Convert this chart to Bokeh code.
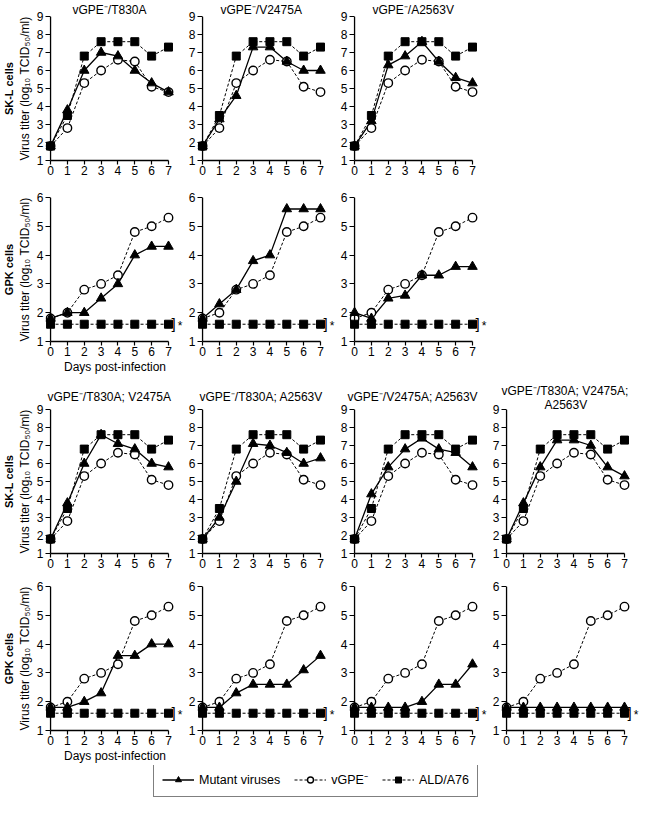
from bokeh.plotting import figure
from bokeh.layouts import column, row
from bokeh.models import (Range1d, FixedTicker, Title, Label, Legend, LegendItem,
                          ColumnDataSource, Span)
from bokeh.embed import file_html
from bokeh.resources import INLINE
from bokeh.core.properties import value

FONT = "Liberation Sans"

# ---------------- data ----------------
days = [0, 1, 2, 3, 4, 5, 6, 7]
skl_ticks = [1, 2, 3, 4, 5, 6, 7, 8, 9]
gpk_ticks = [1, 2, 3, 4, 5, 6]

# SK-L cells
skl_vgpe = [1.8, 2.8, 5.3, 6.0, 6.6, 6.5, 5.1, 4.8]
skl_ald = [1.8, 3.5, 6.8, 7.6, 7.6, 7.6, 6.8, 7.3]
skl_t830a = [1.8, 3.8, 6.0, 7.0, 6.8, 6.0, 5.3, 4.8]
skl_v2475a = [1.8, 3.3, 4.6, 7.3, 7.3, 6.5, 6.0, 6.0]
skl_a2563v = [1.8, 3.2, 6.3, 6.8, 7.6, 6.5, 5.6, 5.3]
skl_t830a_v2475a = [1.8, 3.8, 6.0, 7.6, 7.1, 6.8, 6.0, 5.8]
skl_t830a_a2563v = [1.8, 3.0, 5.0, 7.1, 7.0, 6.6, 6.0, 6.3]
skl_v2475a_a2563v = [1.8, 4.3, 5.8, 6.8, 7.4, 6.8, 6.6, 5.8]
skl_triple = [1.8, 3.8, 5.8, 7.3, 7.3, 7.0, 5.8, 5.3]

# GPK cells
gpk_vgpe = [1.8, 2.0, 2.8, 3.0, 3.3, 4.8, 5.0, 5.3]
gpk_ald = [1.6, 1.6, 1.6, 1.6, 1.6, 1.6, 1.6, 1.6]
gpk_t830a = [1.8, 2.0, 2.0, 2.5, 3.0, 4.0, 4.3, 4.3]
gpk_v2475a = [1.8, 2.3, 2.8, 3.8, 4.0, 5.6, 5.6, 5.6]
gpk_a2563v = [2.0, 1.8, 2.5, 2.6, 3.3, 3.3, 3.6, 3.6]
gpk_t830a_v2475a = [1.8, 1.8, 2.0, 2.3, 3.6, 3.6, 4.0, 4.0]
gpk_t830a_a2563v = [1.8, 1.8, 2.3, 2.6, 2.6, 2.6, 3.1, 3.6]
gpk_v2475a_a2563v = [1.8, 1.8, 1.8, 1.8, 2.0, 2.6, 2.6, 3.3]
gpk_triple = [1.8, 1.8, 1.8, 1.8, 1.8, 1.8, 1.8, 1.8]

titles_single = ["vGPE\u207b/T830A", "vGPE\u207b/V2475A", "vGPE\u207b/A2563V"]
titles_double = ["vGPE\u207b/T830A; V2475A", "vGPE\u207b/T830A; A2563V",
                 "vGPE\u207b/V2475A; A2563V", "vGPE\u207b/T830A; V2475A;\nA2563V"]
ylabel = "Virus titer (log\u2081\u2080 TCID\u2085\u2080/ml)"
xlabel = "Days post-infection"
cell_skl = "SK-L cells"
cell_gpk = "GPK cells"
legend_labels = ["Mutant viruses", "vGPE\u207b", "ALD/A76"]
signif = "*"

# ---------------- styles ----------------
mut_line = dict(line_color="black", line_width=1.3)
mut_mark = dict(marker="triangle", size=9.5, fill_color="black", line_color="black", line_width=1)
vgpe_line = dict(line_color="black", line_width=1, line_dash="3 2")
vgpe_mark = dict(marker="circle", size=8.5, fill_color="white", line_color="black", line_width=1.4)
ald_line = dict(line_color="black", line_width=1, line_dash="3 2")
ald_mark = dict(marker="square", size=8, fill_color="black", line_color="black", line_width=1)

FW, FH = 139, 144
XS, XE = -0.3, 7.95
PXD = FW / (XE - XS)
TICK = int(round((days[0] - XS) * PXD))

CW = {' ': 278, ';': 278, '/': 278, '\u207b': 400, 'v': 500, 'G': 778, 'P': 667,
      'E': 667, 'T': 611, 'A': 667, 'V': 667}


def text_w(s, size=12):
    return sum(CW.get(c, 556) for c in s) / 1000.0 * size


def style_axis(ax):
    ax.axis_line_color = "black"
    ax.axis_line_width = 1.3
    ax.major_tick_line_color = "black"
    ax.major_tick_line_width = 1.2
    ax.major_tick_out = 4
    ax.major_tick_in = 0
    ax.minor_tick_line_color = None
    ax.major_label_text_font = FONT
    ax.major_label_text_font_size = "12px"
    ax.major_label_text_color = "black"
    ax.major_label_standoff = 1
    ax.axis_label_text_font = FONT
    ax.axis_label_text_font_size = "12px"
    ax.axis_label_text_font_style = "normal"
    ax.axis_label_text_color = "black"


def centered_title(text, standoff):
    off = ((days[0] + days[-1]) / 2 - XS) * PXD - text_w(text) / 2
    return Title(text=text, align="left", offset=int(round(off)), standoff=standoff,
                 text_font=FONT, text_font_size="12px", text_font_style="normal",
                 text_color="black")


def make_panel(title, mutant, vgpe, ald, ticks, col, top, bottom, title_standoff,
               cell=None, with_xlabel=False, bracket=False):
    p = figure(frame_width=FW, frame_height=FH,
               x_range=Range1d(XS, XE), y_range=Range1d(ticks[0], ticks[-1]),
               output_backend="svg", toolbar_location=None,
               min_border_left=0 if col == 0 else 13,
               min_border_right=0,
               min_border_top=top, min_border_bottom=bottom)
    p.outline_line_color = None
    p.grid.visible = False
    p.title.text = ""
    p.title.standoff = 0

    lines = [t for t in title.split("\n") if t]
    if len(lines) == 2:
        p.add_layout(centered_title(lines[1], -4), "above")
        p.add_layout(centered_title(lines[0], 0), "above")
    elif len(lines) == 1:
        p.add_layout(centered_title(lines[0], title_standoff), "above")

    xa = p.xaxis[0]
    ya = p.yaxis[0]
    style_axis(xa)
    style_axis(ya)
    xa.ticker = FixedTicker(ticks=days)
    xa.bounds = (days[0], days[-1])
    ya.ticker = FixedTicker(ticks=ticks)
    ya.axis_line_color = None
    ya.major_tick_out = 0
    ya.major_tick_in = TICK
    ya.major_label_standoff = 2
    p.add_layout(Span(location=days[0], dimension="height", line_color="black",
                      line_width=1.3))
    if col == 0:
        ya.axis_label = ylabel
        ya.axis_label_standoff = 2
        p.add_layout(Title(text=cell, align="center", text_font=FONT,
                           text_font_size="11px", text_font_style="bold",
                           text_color="black", standoff=0), "left")
    if with_xlabel:
        xa.axis_label = xlabel
        xa.axis_label_standoff = 1

    p.line(days, vgpe, **vgpe_line)
    p.line(days, mutant, **mut_line)
    p.line(days, ald, **ald_line)
    p.scatter(days, vgpe, **vgpe_mark)
    p.scatter(days, mutant, **mut_mark)
    p.scatter(days, ald, **ald_mark)

    if bracket:
        p.add_layout(Label(x=days[-1], y=ald[-1], x_offset=5, y_offset=1, text="]",
                           text_align="center", text_baseline="middle",
                           text_color="black", text_font=FONT, text_font_size="15px"))
        p.add_layout(Label(x=days[-1], y=ald[-1], x_offset=11.5, y_offset=-2, text=signif,
                           text_align="center", text_baseline="middle",
                           text_color="black", text_font=FONT, text_font_size="12px"))
    return p


skl_top = [skl_t830a, skl_v2475a, skl_a2563v]
gpk_top = [gpk_t830a, gpk_v2475a, gpk_a2563v]
skl_bot = [skl_t830a_v2475a, skl_t830a_a2563v, skl_v2475a_a2563v, skl_triple]
gpk_bot = [gpk_t830a_v2475a, gpk_t830a_a2563v, gpk_v2475a_a2563v, gpk_triple]

row1 = [make_panel(titles_single[i], skl_top[i], skl_vgpe, skl_ald, skl_ticks, i,
                   16, 20, 0, cell=cell_skl) for i in range(3)]
row2 = [make_panel("", gpk_top[i], gpk_vgpe, gpk_ald, gpk_ticks, i,
                   17, 40, 0, cell=cell_gpk, with_xlabel=(i == 0), bracket=True)
        for i in range(3)]
row3 = [make_panel(titles_double[i], skl_bot[i], skl_vgpe, skl_ald, skl_ticks, i,
                   28, 20, 12, cell=cell_skl) for i in range(4)]
row4 = [make_panel("", gpk_bot[i], gpk_vgpe, gpk_ald, gpk_ticks, i,
                   13, 34, 0, cell=cell_gpk, with_xlabel=(i == 0), bracket=True)
        for i in range(4)]

# ---------------- legend ----------------
lf = figure(width=520, height=33, x_range=Range1d(0, 1), y_range=Range1d(0, 1),
            output_backend="svg", toolbar_location=None, min_border=0,
            x_axis_location=None, y_axis_location=None)
lf.outline_line_color = None
lf.grid.visible = False
items = []
for lab, ls, ms in zip(legend_labels, [mut_line, vgpe_line, ald_line],
                       [mut_mark, vgpe_mark, ald_mark]):
    src = ColumnDataSource(data=dict(x=[-5], y=[-5]))
    rl = lf.line("x", "y", source=src, **ls)
    rm = lf.scatter("x", "y", source=src, **ms)
    items.append(LegendItem(label=value(lab), renderers=[rl, rm]))
legend = Legend(items=items, orientation="horizontal", location=(153, 1), margin=0,
                padding=8, spacing=14, glyph_width=32, glyph_height=15, label_height=15,
                label_standoff=5, border_line_color="black", border_line_width=1.2,
                label_text_font=FONT, label_text_font_size="12.5px",
                label_text_color="black", background_fill_alpha=1)
lf.add_layout(legend, "center")

layout = column(row(*row1), row(*row2), row(*row3), row(*row4), lf)
open("out.html", "w").write(file_html(layout, INLINE))
